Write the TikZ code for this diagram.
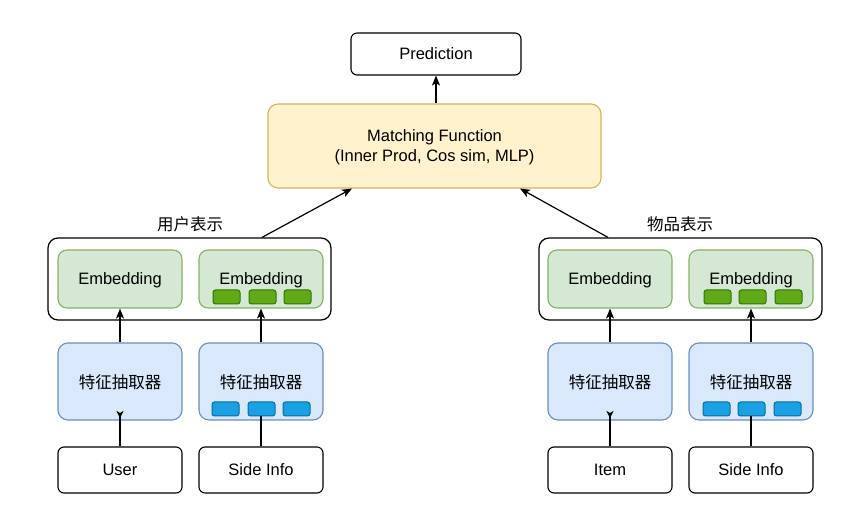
\documentclass[tikz,border=0pt]{standalone}
\usepackage{fontspec}
\setmainfont{Liberation Sans}
\newfontfamily\cjk{Noto Sans CJK SC}
\usetikzlibrary{arrows.meta}
\definecolor{gfill}{HTML}{D5E8D4}
\definecolor{gline}{HTML}{82B366}
\definecolor{bfill}{HTML}{DAE8FC}
\definecolor{bline}{HTML}{6C8EBF}
\definecolor{yfill}{HTML}{FFF2CC}
\definecolor{yline}{HTML}{D6B656}
\definecolor{sgfill}{HTML}{60A917}
\definecolor{sgline}{HTML}{2D7600}
\definecolor{sbfill}{HTML}{1BA1E2}
\definecolor{sbline}{HTML}{006EAF}
\begin{document}
\begin{tikzpicture}[x=1pt,y=-1pt,
  every node/.style={font=\fontsize{16.5}{20}\selectfont, inner sep=0pt, align=center, text depth=0pt},
  base/.style={draw, line width=1.1pt, rounded corners=7pt, minimum width=124pt},
  plainbox/.style={base, draw=black, fill=white, minimum height=46pt, rounded corners=6pt},
  embbox/.style={base, draw=gline, fill=gfill, minimum height=58pt, rounded corners=9pt},
  extbox/.style={base, draw=bline, fill=bfill, minimum height=77pt, rounded corners=10pt},
  groupbox/.style={draw=black, line width=1.2pt, rounded corners=10pt, minimum width=283pt, minimum height=82pt},
  gsq/.style={draw=sgline, fill=sgfill, line width=1pt, rounded corners=2.5pt, minimum width=27pt, minimum height=14pt},
  bsq/.style={draw=sbline, fill=sbfill, line width=1pt, rounded corners=2.5pt, minimum width=27pt, minimum height=14pt},
  arr/.style={line width=1.2pt, -{Stealth[length=10pt,width=8pt,inset=2.5pt]}},
  ln/.style={line width=1.2pt}
]
\useasboundingbox (0,0) rectangle (860,526);

% top
\node[base, draw=black, fill=white, minimum width=170pt, minimum height=42pt, rounded corners=6pt] (pred) at (436,54) {Prediction};
\node[base, draw=yline, fill=yfill, minimum width=333pt, minimum height=84pt, rounded corners=10pt] (mf) at (434.5,146) {Matching Function\\(Inner Prod, Cos sim, MLP)};

% groups
\node[groupbox] (gl) at (189.5,279) {};
\node[groupbox] (gr) at (680.5,279) {};
\node (gll) at (190,224) {\cjk 用户表示};
\node (grl) at (680,224) {\cjk 物品表示};

% embeddings
\node[embbox] (e1) at (120,279) {Embedding};
\node[embbox] (e2) at (261,279) {Embedding};
\node[embbox] (e3) at (610,279) {Embedding};
\node[embbox] (e4) at (751,279) {Embedding};
\node[gsq] (g21) at (226.5,297) {};
\node[gsq] (g22) at (262.5,297) {};
\node[gsq] (g23) at (297.5,297) {};
\node[gsq] (g41) at (717.5,297) {};
\node[gsq] (g42) at (752.5,297) {};
\node[gsq] (g43) at (788.5,297) {};

% extractors
\node[extbox] (x1) at (120,381.5) {\cjk 特征抽取器};
\node[extbox] (x2) at (261,381.5) {\cjk 特征抽取器};
\node[extbox] (x3) at (610,381.5) {\cjk 特征抽取器};
\node[extbox] (x4) at (751,381.5) {\cjk 特征抽取器};
\node[bsq] (b21) at (225.5,409) {};
\node[bsq] (b22) at (261.5,409) {};
\node[bsq] (b23) at (296.5,409) {};
\node[bsq] (b41) at (716.5,409) {};
\node[bsq] (b42) at (751.5,409) {};
\node[bsq] (b43) at (787.5,409) {};

% inputs
\node[plainbox] (u) at (120,470) {User};
\node[plainbox] (s1) at (261,470) {Side Info};
\node[plainbox] (it) at (610,470) {Item};
\node[plainbox] (s2) at (751,470) {Side Info};

% connectors bottom
\coordinate (x1in) at (120,411);
\coordinate (x3in) at (610,411);
\draw[ln, {Stealth[length=7pt,width=7pt,inset=2pt,reversed]}-] (x1in) -- (u.north);
\draw[ln, {Stealth[length=7pt,width=7pt,inset=2pt,reversed]}-] (x3in) -- (it.north);
\draw[ln] (s1.north) -- (b22.south -| s1.north);
\draw[ln] (s2.north) -- (b42.south -| s2.north);

% extractor -> embedding
\draw[arr] (x1.north) -- (e1.south);
\draw[arr] (x2.north) -- (e2.south);
\draw[arr] (x3.north) -- (e3.south);
\draw[arr] (x4.north) -- (e4.south);

% groups -> matching
\draw[arr] ([xshift=72.5pt]gl.north) -- ([xshift=-82.5pt]mf.south);
\draw[arr] ([xshift=-72.5pt]gr.north) -- ([xshift=85.5pt]mf.south);

% matching -> prediction
\draw[arr] (mf.north -| pred.south) -- (pred.south);
\end{tikzpicture}
\end{document}
